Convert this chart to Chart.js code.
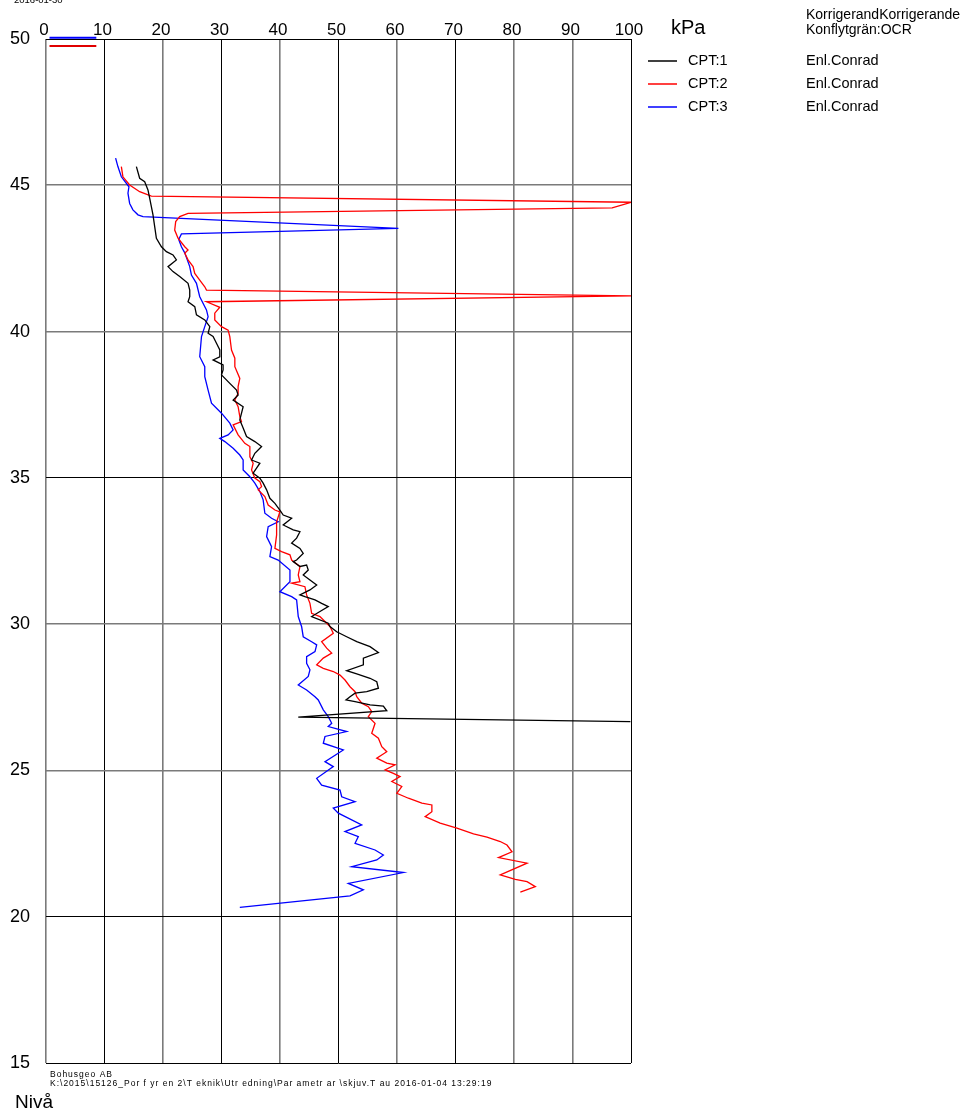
<!DOCTYPE html>
<html>
<head>
<meta charset="utf-8">
<title>CPT skjuvhållfasthet</title>
<script src="https://cdn.jsdelivr.net/npm/chart.js@4/dist/chart.umd.min.js"></script>
<style>
    html, body { margin: 0; padding: 0; background: #fff; }
    canvas { display: block; }
</style>
</head>
<body>
<canvas id="chart" width="968" height="1112"></canvas>
<script>
// values: kPa (x) against level (Nivå, y)
const cpt1Kpa = [15.45, 16.01, 16.87, 17.43, 17.72, 18.01, 18.29, 18.58, 18.87, 19.73,
    20.58, 21.71, 22.29, 20.86, 21.71, 22.86, 24.28, 24.57, 24.57, 24.28,
    25.43, 25.72, 27.14, 28.00, 27.71, 28.56, 29.14, 29.71, 29.71, 28.56,
    30.27, 30.27, 30.00, 31.42, 32.57, 32.84, 31.99, 33.70, 33.13, 33.70,
    34.28, 35.70, 36.85, 35.70, 35.14, 36.56, 35.99, 35.41, 36.56, 37.12,
    37.71, 38.27, 39.13, 39.98, 40.55, 41.99, 40.55, 42.26, 43.41, 42.84,
    41.99, 43.41, 43.97, 42.84, 42.26, 43.41, 44.55, 44.83, 43.97, 45.12,
    46.27, 45.12, 43.41, 44.26, 45.98, 47.12, 48.25, 46.83, 45.41, 48.25,
    48.54, 49.69, 51.40, 53.12, 55.39, 56.82, 54.25, 54.25, 51.40, 53.12,
    55.39, 56.54, 56.82, 54.83, 52.83, 51.97, 51.28, 52.83, 55.39, 57.67,
    58.25, 43.12, 99.9];
const cpt1Level = [45.64, 45.24, 45.12, 44.84, 44.56, 44.27, 43.99, 43.59, 43.19, 42.90,
    42.73, 42.62, 42.45, 42.22, 42.05, 41.88, 41.65, 41.42, 41.19, 41.02,
    40.85, 40.57, 40.40, 40.17, 39.94, 39.83, 39.60, 39.37, 39.14, 39.03,
    38.86, 38.69, 38.52, 38.23, 38.00, 37.83, 37.66, 37.43, 36.98, 36.70,
    36.41, 36.24, 36.07, 35.84, 35.61, 35.50, 35.33, 35.16, 34.99, 34.82,
    34.59, 34.30, 34.13, 33.90, 33.73, 33.62, 33.39, 33.22, 33.16, 32.94,
    32.77, 32.59, 32.42, 32.19, 32.14, 31.97, 32.02, 31.85, 31.68, 31.51,
    31.34, 31.17, 31.00, 30.94, 30.83, 30.71, 30.60, 30.43, 30.26, 30.03,
    29.92, 29.74, 29.57, 29.40, 29.23, 29.03, 28.84, 28.61, 28.41, 28.30,
    28.15, 28.03, 27.81, 27.69, 27.64, 27.52, 27.41, 27.35, 27.24, 27.20,
    27.04, 26.82, 26.67];

const cpt2Kpa = [12.88, 13.15, 14.30, 16.01, 18.01, 100, 96.78, 24.28, 22.86, 22.17,
    22.00, 22.57, 23.72, 24.28, 23.72, 24.28, 25.14, 25.43, 26.28, 27.14,
    27.43, 100, 27.43, 29.71, 28.85, 28.85, 30.00, 31.13, 31.42, 31.71,
    32.28, 32.28, 33.13, 32.84, 32.84, 32.28, 32.84, 33.13, 33.42, 31.99,
    32.84, 33.99, 34.85, 34.85, 35.41, 35.14, 35.70, 36.56, 36.85, 36.27,
    37.41, 37.98, 39.13, 39.98, 39.42, 39.42, 39.13, 40.27, 41.70, 41.99,
    43.41, 43.12, 43.41, 41.99, 44.26, 44.55, 45.12, 45.41, 46.83, 48.54,
    49.11, 47.12, 47.98, 48.84, 47.40, 46.27, 47.40, 49.11, 50.26, 51.11,
    51.97, 52.83, 53.12, 53.97, 55.10, 55.68, 55.10, 56.25, 55.68, 56.82,
    57.40, 58.25, 56.54, 58.25, 59.67, 57.96, 59.38, 60.53, 59.11, 60.82,
    59.97, 61.95, 64.25, 65.96, 65.96, 64.81, 67.38, 70.24, 73.08, 75.38,
    77.65, 78.80, 79.66, 77.36, 82.23, 77.65, 80.22, 82.23, 83.65, 81.08];
const cpt2Level = [45.64, 45.29, 45.01, 44.78, 44.63, 44.42, 44.23, 44.04, 43.93, 43.76,
    43.47, 43.19, 42.90, 42.79, 42.68, 42.45, 42.22, 41.99, 41.76, 41.53,
    41.42, 41.22, 41.02, 40.83, 40.63, 40.40, 40.17, 40.05, 39.83, 39.37,
    39.09, 38.80, 38.40, 38.12, 37.89, 37.66, 37.43, 37.09, 36.92, 36.81,
    36.47, 36.18, 36.07, 35.72, 35.50, 35.27, 34.99, 34.87, 34.70, 34.59,
    34.36, 34.07, 33.90, 33.84, 33.50, 33.05, 32.59, 32.48, 32.37, 32.19,
    31.97, 31.68, 31.45, 31.40, 31.28, 31.00, 30.71, 30.37, 30.26, 29.92,
    29.69, 29.40, 29.18, 29.01, 28.84, 28.61, 28.49, 28.38, 28.26, 28.09,
    27.86, 27.69, 27.52, 27.30, 27.18, 27.01, 26.84, 26.61, 26.27, 26.10,
    25.81, 25.64, 25.42, 25.25, 25.19, 25.02, 24.90, 24.79, 24.62, 24.45,
    24.22, 24.05, 23.88, 23.82, 23.59, 23.42, 23.20, 23.03, 22.83, 22.72,
    22.57, 22.45, 22.22, 22.02, 21.83, 21.43, 21.28, 21.20, 21.03, 20.84];

const cpt3Kpa = [11.90, 12.29, 12.88, 13.73, 14.18, 14.01, 14.30, 14.86, 15.72, 16.58,
    60.24, 23.15, 22.69, 23.15, 23.72, 24.57, 24.86, 25.72, 26.28, 27.43,
    27.71, 27.14, 26.58, 26.28, 27.14, 27.14, 27.71, 28.29, 30.00, 31.42,
    31.99, 31.13, 29.71, 30.57, 31.99, 33.13, 33.70, 33.70, 34.85, 35.70,
    36.56, 37.12, 37.41, 38.56, 39.69, 37.98, 37.71, 38.56, 38.27, 39.69,
    41.70, 41.70, 39.98, 41.99, 42.84, 43.12, 43.70, 43.97, 45.41, 46.27,
    45.98, 44.55, 44.55, 45.12, 44.83, 43.12, 44.55, 45.98, 46.54, 47.40,
    48.25, 48.84, 48.25, 51.40, 47.69, 47.40, 50.82, 47.69, 49.11, 46.27,
    47.12, 50.26, 50.55, 52.83, 49.11, 49.97, 53.97, 51.11, 53.39, 52.83,
    56.25, 57.67, 56.54, 52.26, 61.10, 51.68, 54.25, 51.97, 33.13];
const cpt3Level = [45.93, 45.64, 45.29, 45.07, 44.95, 44.73, 44.38, 44.16, 43.99, 43.93,
    43.53, 43.34, 43.15, 42.90, 42.69, 42.22, 41.93, 41.65, 41.19, 40.74,
    40.51, 40.17, 39.83, 39.14, 38.80, 38.46, 38.00, 37.55, 37.21, 36.87,
    36.64, 36.47, 36.35, 36.24, 36.01, 35.78, 35.61, 35.27, 35.04, 34.82,
    34.53, 34.25, 33.79, 33.62, 33.50, 33.33, 32.99, 32.65, 32.31, 32.19,
    31.85, 31.45, 31.11, 30.94, 30.83, 30.26, 29.91, 29.57, 29.40, 29.29,
    29.06, 28.89, 28.66, 28.44, 28.21, 27.92, 27.75, 27.52, 27.41, 27.07,
    26.84, 26.61, 26.50, 26.33, 26.16, 25.93, 25.70, 25.30, 25.13, 24.73,
    24.50, 24.33, 24.10, 23.93, 23.71, 23.54, 23.14, 22.91, 22.74, 22.51,
    22.28, 22.11, 21.94, 21.71, 21.51, 21.14, 20.92, 20.71, 20.32];

// the two short marks in the top left corner
const markKpa = [0.6, 8.6];
const markBlueLevel = [50.04, 50.04];
const markRedLevel = [49.76, 49.76];

const seriesNames = ['CPT:1', 'CPT:2', 'CPT:3'];
const seriesNotes = ['Enl.Conrad', 'Enl.Conrad', 'Enl.Conrad'];
const headerLines = ['KorrigerandKorrigerande', 'Konflytgrän:OCR'];
const footerLines = ['Bohusgeo AB',
    'K:\\2015\\15126_Por f yr en 2\\T eknik\\Utr edning\\Par ametr ar \\skjuv.T au 2016-01-04 13:29:19'];
const dateLabel = '2016-01-30';
const xUnit = 'kPa';
const yTitle = 'Nivå';

const colors = ['#000000', '#ff0000', '#0000ff'];
const FONT = '"Liberation Sans", Arial, sans-serif';

// grid lines that come out grey in the original (antialiased)
const greyX = [0, 20, 40, 60, 80, 90];
const greyY = [25, 30, 40, 45];

const toPoints = (xs, ys) => xs.map((x, i) => ({ x, y: ys[i] }));

function lineSet(label, xs, ys, color, width, clip) {
    return {
        label,
        data: toPoints(xs, ys),
        showLine: true,
        borderColor: color,
        backgroundColor: color,
        borderWidth: width,
        pointRadius: 0,
        tension: 0,
        clip,
    };
}

const textPlugin = {
    id: 'pageText',
    afterDraw(chart) {
        const ctx = chart.ctx;
        ctx.save();
        ctx.fillStyle = '#000';
        ctx.textBaseline = 'alphabetic';
        ctx.textAlign = 'left';

        ctx.font = `9.5px ${FONT}`;
        ctx.fillText(dateLabel, 14, 3);

        ctx.font = `20px ${FONT}`;
        ctx.fillText(xUnit, 671, 34);

        ctx.font = `14px ${FONT}`;
        ctx.fillText(headerLines[0], 806, 19);
        ctx.fillText(headerLines[1], 806, 34);

        const rowY = [61, 84, 107];
        seriesNames.forEach((name, i) => {
            ctx.strokeStyle = colors[i];
            ctx.lineWidth = 1.5;
            ctx.beginPath();
            ctx.moveTo(648, rowY[i]);
            ctx.lineTo(677, rowY[i]);
            ctx.stroke();
            ctx.font = `14.5px ${FONT}`;
            ctx.fillText(name, 688, rowY[i] + 4);
            ctx.fillText(seriesNotes[i], 806, rowY[i] + 4);
        });

        ctx.font = `8.5px ${FONT}`;
        if ('letterSpacing' in ctx) ctx.letterSpacing = '1px';
        ctx.fillText(footerLines[0], 50, 1077);
        ctx.fillText(footerLines[1], 50, 1086);
        if ('letterSpacing' in ctx) ctx.letterSpacing = '0px';

        ctx.font = `19px ${FONT}`;
        ctx.fillText(yTitle, 15, 1108);
        ctx.restore();
    },
};

new Chart(document.getElementById('chart').getContext('2d'), {
    type: 'scatter',
    data: {
        datasets: [
            lineSet(seriesNames[0], cpt1Kpa, cpt1Level, colors[0], 1.3),
            lineSet(seriesNames[1], cpt2Kpa, cpt2Level, colors[1], 1.3),
            lineSet(seriesNames[2], cpt3Kpa, cpt3Level, colors[2], 1.3),
            lineSet('mark blue', markKpa, markBlueLevel, colors[2], 2, false),
            lineSet('mark red', markKpa, markRedLevel, '#e00000', 2, false),
        ],
    },
    options: {
        responsive: false,
        animation: false,
        layout: { padding: { left: 0, top: 0, right: 337, bottom: 49 } },
        plugins: {
            legend: { display: false },
            tooltip: { enabled: false },
        },
        scales: {
            x: {
                type: 'linear',
                position: 'top',
                min: 0,
                max: 100,
                ticks: {
                    stepSize: 10,
                    color: '#000',
                    padding: -2,
                    labelOffset: -2,
                    maxRotation: 0,
                    font: { family: FONT, size: 17 },
                },
                grid: {
                    drawTicks: false,
                    color: ctx => (greyX.includes(ctx.tick.value) ? '#7a7a7a' : '#000'),
                    lineWidth: ctx => (greyX.includes(ctx.tick.value) ? 1.6 : 1),
                },
                border: { display: false },
                afterFit: scale => { scale.height = 39; },
            },
            y: {
                type: 'linear',
                min: 15,
                max: 50,
                ticks: {
                    stepSize: 5,
                    color: '#000',
                    padding: 16,
                    font: { family: FONT, size: 18 },
                },
                grid: {
                    drawTicks: false,
                    color: ctx => (greyY.includes(ctx.tick.value) ? '#7a7a7a' : '#000'),
                    lineWidth: ctx => (greyY.includes(ctx.tick.value) ? 1.6 : 1),
                },
                border: { display: false },
                afterFit: scale => { scale.width = 46; },
            },
        },
    },
    plugins: [textPlugin],
});
</script>
</body>
</html>
